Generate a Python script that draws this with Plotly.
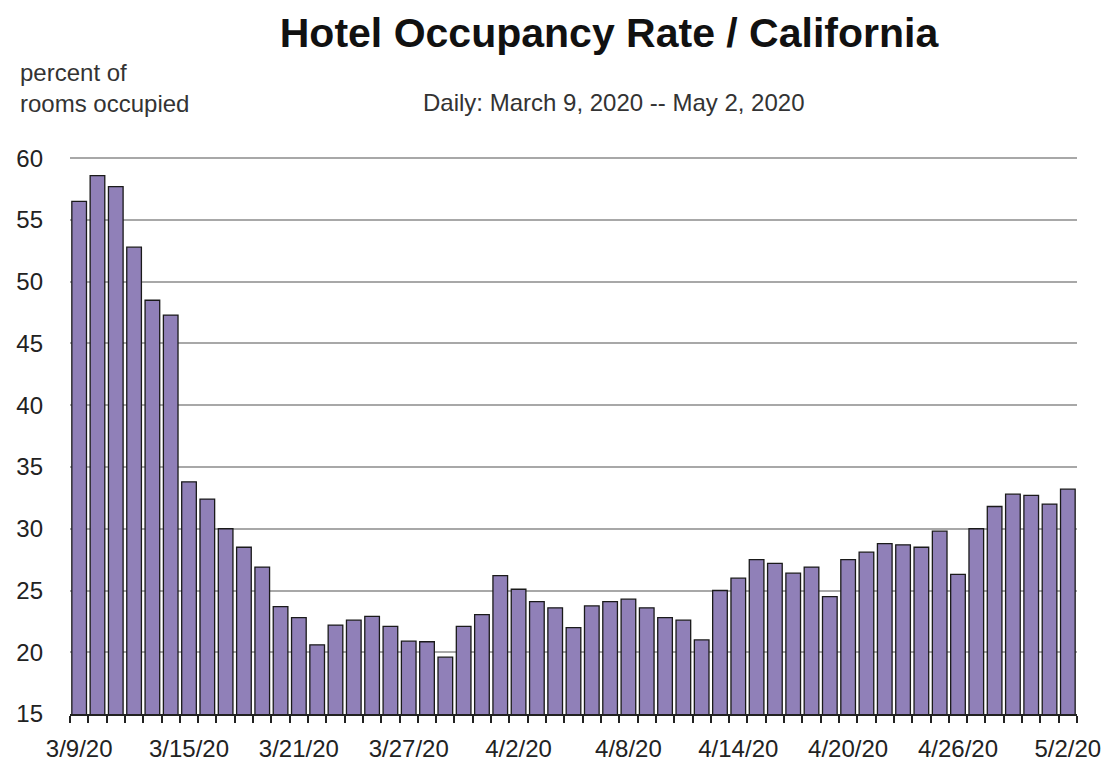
import plotly.graph_objects as go
import pandas as pd

dates = [d.strftime("%-m/%-d/%y") for d in pd.date_range("2020-03-09", "2020-05-02", freq="D")]

occupancy = [
    56.5, 58.6, 57.7, 52.8, 48.5, 47.3, 33.8, 32.4, 30.0, 28.5,
    26.9, 23.7, 22.8, 20.6, 22.2, 22.6, 22.9, 22.1, 20.9, 20.85,
    19.6, 22.1, 23.05, 26.2, 25.1, 24.1, 23.6, 22.0, 23.75, 24.1,
    24.3, 23.6, 22.8, 22.6, 21.0, 25.0, 26.0, 27.5, 27.2, 26.4,
    26.9, 24.5, 27.5, 28.1, 28.8, 28.7, 28.5, 29.8, 26.3, 30.0,
    31.8, 32.8, 32.7, 32.0, 33.2,
]

label_every = 6
tick_text = [d if i % label_every == 0 else "" for i, d in enumerate(dates)]
y_ticks = [15, 20, 25, 30, 35, 40, 45, 50, 55, 60]

W, H = 1117, 763
L, R, T, B = 62, 48, 149, 57
OFF = 8  # page offset of the plot in the browser

fig = go.Figure()
fig.add_trace(go.Bar(
    x=dates, y=occupancy,
    marker=dict(color="#9080B8", line=dict(color="#1a1a1a", width=1.3)),
))

font_main = "Liberation Sans, Arial, sans-serif"

plot_w = W - L - R
plot_h = H - T - B


def px_x(sx):
    return (sx - OFF - L) / plot_w


def px_y(sy):
    return (H - B - (sy - OFF)) / plot_h


fig.update_layout(
    width=W, height=H,
    margin=dict(l=L, r=R, t=T, b=B),
    paper_bgcolor="white", plot_bgcolor="white",
    showlegend=False,
    bargap=0.2,
    font=dict(family=font_main, color="#222", size=20),
    title=dict(
        text="<b>Hotel Occupancy Rate / California</b>",
        x=(609 - OFF) / W, xanchor="center",
        y=1 - (33 - OFF) / H, yanchor="middle",
        font=dict(family=font_main, size=41, color="#111"),
    ),
    annotations=[
        dict(text="percent of<br>rooms occupied", x=px_x(18), y=px_y(88),
             xref="paper", yref="paper", xanchor="left", yanchor="middle",
             align="left", showarrow=False, font=dict(size=24, color="#333")),
        dict(text="Daily: March 9, 2020 -- May 2, 2020", x=px_x(614), y=px_y(103),
             xref="paper", yref="paper", xanchor="center", yanchor="middle",
             showarrow=False, font=dict(size=24, color="#333")),
    ],
)

fig.update_xaxes(
    type="category",
    tickvals=dates, ticktext=tick_text,
    tickson="boundaries", ticks="outside", ticklen=7, tickcolor="#222", tickwidth=1.5,
    showline=True, linecolor="#222", linewidth=1.5,
    showgrid=False,
    tickangle=0,
    ticklabelstandoff=12,
    automargin=False,
    tickfont=dict(size=24, color="#222"),
)
fig.update_yaxes(
    range=[15, 60.1], tickvals=y_ticks,
    showgrid=True, gridcolor="#A8A8A8", gridwidth=2,
    showline=False, zeroline=False,
    ticks="", ticklabelstandoff=26,
    automargin=False,
    tickfont=dict(size=24, color="#222"),
)

fig.write_html("out.html")
